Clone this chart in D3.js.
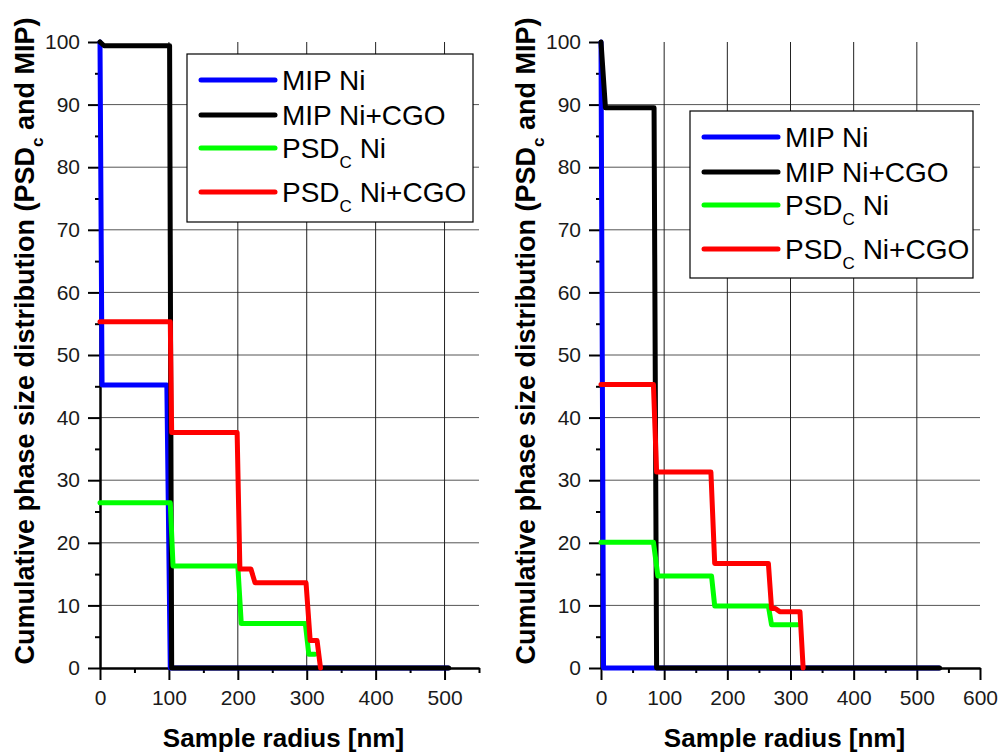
<!DOCTYPE html>
<html>
<head>
<meta charset="utf-8">
<script src="https://cdn.jsdelivr.net/npm/d3@7"></script>
<style>
  body { margin: 0; background: #fff; }
  svg { font-family: "Liberation Sans", Arial, sans-serif; }
</style>
</head>
<body>
<div id="chart"></div>
<script>
// series labels and colours (same for both panels)
var seriesNames = ["MIP Ni", "MIP Ni+CGO", "PSD|C| Ni", "PSD|C| Ni+CGO"];
var seriesColors = ["#0000ff", "#000000", "#00ff00", "#ff0000"];

var yTicks = [0, 10, 20, 30, 40, 50, 60, 70, 80, 90, 100];
var yMinor = [5, 15, 25, 35, 45, 55, 65, 75, 85, 95];
var leftXTicks = [0, 100, 200, 300, 400, 500];
var leftXMinor = [50, 150, 250, 350, 450, 550];
var rightXTicks = [0, 100, 200, 300, 400, 500, 600];
var rightXMinor = [50, 150, 250, 350, 450, 550];
var gridX = [100, 200, 300, 400, 500];
var gridY = [10, 20, 30, 40, 50, 60, 70, 80, 90];

// left panel: [radius nm, cumulative %]
var leftMipNi = [[0, 100], [3, 45.2], [97, 45.2], [102, 0], [505, 0]];
var leftMipNiCgo = [[0, 100], [6, 99.4], [101, 99.4], [104, 0], [506, 0]];
var leftPsdNi = [[0, 26.4], [102, 26.4], [106, 16.3], [200, 16.3], [205, 7.1], [298, 7.1], [303, 2.2], [312, 2.2]];
var leftPsdNiCgo = [[0, 55.3], [102, 55.3], [104, 37.6], [199, 37.6], [203, 15.8], [219, 15.8], [225, 13.6],
                    [299, 13.6], [305, 4.4], [315, 4.4], [320, 0]];

// right panel
var rightMipNi = [[0, 100], [4, 0], [535, 0]];
var rightMipNiCgo = [[0, 100], [7, 89.5], [84, 89.5], [88, 0], [536, 0]];
var rightPsdNi = [[0, 20.1], [83, 20.1], [90, 14.7], [175, 14.7], [180, 9.9], [265, 9.9], [270, 6.9], [311, 6.9]];
var rightPsdNiCgo = [[0, 45.3], [83, 45.3], [88, 31.3], [174, 31.3], [180, 16.7], [265, 16.7], [270, 9.5],
                     [276, 9.5], [283, 9.0], [315, 9.0], [320, 0]];

var W = 1000, H = 753;
var plotTop = 42, plotBottom = 668;

var svg = d3.select("#chart").append("svg")
    .attr("width", W)
    .attr("height", H);

var panels = [
  {left: 100, right: 479, xMax: 550, ticks: leftXTicks, minor: leftXMinor,
   series: [leftMipNi, leftMipNiCgo, leftPsdNi, leftPsdNiCgo],
   legend: {x: 187, y: 54, w: 286, h: 168}, yLabelX: 34},
  {left: 601, right: 980, xMax: 600, ticks: rightXTicks, minor: rightXMinor,
   series: [rightMipNi, rightMipNiCgo, rightPsdNi, rightPsdNiCgo],
   legend: {x: 690, y: 111, w: 283, h: 167}, yLabelX: 535}
];

// writes "A|sub|B" strings as tspans with a subscript
function richText(sel, str, subSize, shift) {
  var parts = str.split("|");
  sel.append("tspan").text(parts[0]);
  if (parts.length > 1) {
    sel.append("tspan").attr("font-size", subSize).attr("dy", shift).text(parts[1]);
    sel.append("tspan").attr("dy", -shift).text(parts[2]);
  }
}

panels.forEach(function(p) {
  var x = d3.scaleLinear().domain([0, p.xMax]).range([p.left, p.right]);
  var y = d3.scaleLinear().domain([0, 100]).range([plotBottom, plotTop]);

  var g = svg.append("g");

  // grid
  g.selectAll(".gy").data(gridY).enter().append("line")
      .attr("x1", p.left).attr("x2", p.right)
      .attr("y1", function(d) { return y(d); })
      .attr("y2", function(d) { return y(d); })
      .attr("stroke", "#555").attr("stroke-width", 1);
  g.selectAll(".gx").data(gridX).enter().append("line")
      .attr("y1", plotTop).attr("y2", plotBottom)
      .attr("x1", function(d) { return x(d); })
      .attr("x2", function(d) { return x(d); })
      .attr("stroke", "#222").attr("stroke-width", 1);

  // minor ticks
  g.append("g")
      .attr("transform", "translate(0," + plotBottom + ")")
      .call(d3.axisBottom(x).tickValues(p.minor).tickSize(5).tickSizeOuter(0).tickFormat(""));
  g.append("g")
      .attr("transform", "translate(" + p.left + ",0)")
      .call(d3.axisLeft(y).tickValues(yMinor).tickSize(5).tickSizeOuter(0).tickFormat(""));

  // major axes
  var xa = g.append("g")
      .attr("transform", "translate(0," + plotBottom + ")")
      .call(d3.axisBottom(x).tickValues(p.ticks).tickSize(12).tickPadding(10).tickSizeOuter(0));
  var ya = g.append("g")
      .attr("transform", "translate(" + p.left + ",0)")
      .call(d3.axisLeft(y).tickValues(yTicks).tickSize(12).tickPadding(8).tickSizeOuter(0));

  g.selectAll(".domain").attr("stroke", "#000").attr("stroke-width", 2);
  g.selectAll(".tick line").attr("stroke", "#000").attr("stroke-width", 2);
  [xa, ya].forEach(function(a) {
    a.attr("font-size", 21).attr("font-family", "'Liberation Sans', Arial, sans-serif");
    a.selectAll("text").attr("fill", "#1a1a1a");
  });

  // curves
  var line = d3.line()
      .x(function(d) { return x(d[0]); })
      .y(function(d) { return y(d[1]); });

  p.series.forEach(function(s, i) {
    g.append("path")
        .datum(s)
        .attr("d", line)
        .attr("fill", "none")
        .attr("stroke", seriesColors[i])
        .attr("stroke-width", 5)
        .attr("stroke-linejoin", "round")
        .attr("stroke-linecap", "round");
  });

  // legend
  var L = p.legend;
  var lg = g.append("g").attr("transform", "translate(" + L.x + "," + L.y + ")");
  lg.append("rect")
      .attr("width", L.w).attr("height", L.h)
      .attr("fill", "#fff").attr("stroke", "#000").attr("stroke-width", 1.2);
  var rowY = [26, 61, 94, 138];
  seriesNames.forEach(function(name, i) {
    lg.append("line")
        .attr("x1", 14).attr("x2", 88)
        .attr("y1", rowY[i]).attr("y2", rowY[i])
        .attr("stroke", seriesColors[i])
        .attr("stroke-width", 5)
        .attr("stroke-linecap", "round");
    var t = lg.append("text")
        .attr("x", 95).attr("y", rowY[i] + 10)
        .attr("font-size", 28)
        .attr("fill", "#000");
    richText(t, name, 17, 10);
  });

  // axis titles
  g.append("text")
      .attr("x", (p.left + p.right) / 2 - 6)
      .attr("y", 747)
      .attr("text-anchor", "middle")
      .attr("font-size", 26)
      .attr("font-weight", "bold")
      .text("Sample radius [nm]");

  var yt = g.append("text")
      .attr("transform", "translate(" + p.yLabelX + ",341) rotate(-90)")
      .attr("text-anchor", "middle")
      .attr("font-size", 27)
      .attr("font-weight", "bold");
  richText(yt, "Cumulative phase size distribution (PSD|c| and MIP)", 17, 9);
});
</script>
</body>
</html>
